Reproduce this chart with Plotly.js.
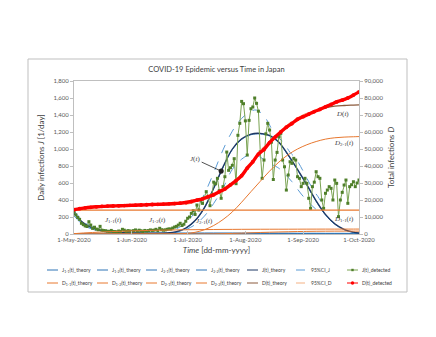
<!DOCTYPE html>
<html><head><meta charset="utf-8">
<script src="https://cdn.plot.ly/plotly-3.0.1.min.js"></script>
<style>html,body{margin:0;padding:0;background:#fff}#chart{width:436px;height:337px}</style>
</head><body><div id="chart"></div>
<script>
// ---------- DATA ----------
// Detected daily infections J(t), 1-May-2020 .. 1-Oct-2020
const jDetMay = [262,225,195,172,126,110,95,88,145,105,67,80,58,50,90,45,40,38,32,30,42,30,28,25,35,30,55,45,30,40,35];
const jDetJun = [32,40,48,35,45,38,30,42,35,40,48,42,45,55,40,67,50,45,48,55,60,58,70,82,90,105,126,100,115,150];
const jDetJul = [185,200,243,274,230,341,282,400,360,430,498,439,333,458,610,590,655,510,420,557,674,964,749,780,808,886,592,1161,1302,1560,1533];
const jDetAug = [1331,929,1337,1474,1494,1600,1537,1445,968,655,870,1178,1302,1223,1080,641,870,960,1144,1184,870,791,517,694,850,831,890,870,674,655,557];
const jDetSep = [596,655,596,420,302,557,610,733,674,655,400,302,479,517,557,537,400,635,596,204,400,490,576,635,361,557,580,615,557,600];
const jDetOct = [635];

// Theory sample dates (every 5 days)
const thDates = ['2020-05-01','2020-05-06','2020-05-11','2020-05-16','2020-05-21','2020-05-26','2020-05-31','2020-06-05','2020-06-10','2020-06-15','2020-06-20','2020-06-25','2020-06-30','2020-07-05','2020-07-10','2020-07-15','2020-07-20','2020-07-25','2020-07-30','2020-08-04','2020-08-09','2020-08-14','2020-08-19','2020-08-24','2020-08-29','2020-09-03','2020-09-08','2020-09-13','2020-09-18','2020-09-23','2020-09-28','2020-10-01'];
const j11 = [240,125,65,34,18,9,5,2,1,0,0,0,0,0,0,0,0,0,0,0,0,0,0,0,0,0,0,0,0,0,0,0];
const j12 = [5,6,7,8,8,9,9,10,10,11,11,12,12,12,12,12,12,12,11,11,11,10,10,10,9,9,9,8,8,8,7,7];
const j21 = [0,0,0,0,0,0,0,0,0,0,2,20,64,152,304,533,782,992,1112,1168,1177,1153,1073,923,753,573,383,223,114,50,17,7];
const j22 = [0,0,0,0,0,0,0,0,0,0,1,2,3,4,4,5,5,5,5,5,5,5,5,5,5,4,4,3,3,2,1,1];
const jTheory = [245,131,72,42,26,18,14,12,11,11,13,28,70,158,310,540,790,1000,1120,1175,1184,1160,1080,930,760,580,390,230,120,55,22,12];

// 95% CI of J(t)
const ciJEarlyDates = ['2020-05-01','2020-05-06','2020-05-11','2020-05-16','2020-05-21'];
const ciJEarlyUp = [275,150,85,50,32];
const ciJEarlyLo = [215,105,55,30,16];
const ciJUpDates = ['2020-06-25','2020-06-30','2020-07-05','2020-07-10','2020-07-15','2020-07-20','2020-07-25','2020-07-30','2020-08-04','2020-08-07','2020-08-11','2020-08-15','2020-08-17','2020-08-21','2020-08-25','2020-08-28','2020-09-01','2020-09-04','2020-09-07','2020-09-09','2020-09-12'];
const ciJUp = [60,130,260,470,720,990,1210,1360,1445,1458,1390,1240,1164,1090,960,890,740,615,500,439,330];
const ciJLoDates = ['2020-06-30','2020-07-05','2020-07-10','2020-07-15','2020-07-20','2020-07-25','2020-07-30','2020-08-03','2020-08-07','2020-08-10','2020-08-14','2020-08-19','2020-08-26','2020-08-31','2020-09-05','2020-09-09'];
const ciJLo = [50,110,210,360,540,760,880,930,925,890,830,773,615,470,350,270];

// Total infections D(t) theory components
const d11Dates = ['2020-05-01','2020-10-01'];
const d11 = [14100,14100];
const d12 = [200,600,900,1150,1400,1600,1800,1950,2100,2200,2300,2400,2500,2550,2600,2650,2700,2720,2750,2770,2800,2810,2820,2830,2850,2860,2870,2880,2885,2890,2895,2900];
const d21 = [0,0,0,0,0,0,0,0,0,0,0,80,300,1000,2500,5000,8500,13000,18700,24900,31000,37000,42300,46700,50000,52500,54400,55800,56600,57000,57200,57300];
const d22 = [0,0,0,0,0,0,0,0,0,0,0,0,0,0,50,100,200,330,500,700,900,1050,1200,1330,1450,1530,1600,1650,1680,1700,1700,1700];
const dTheory = [14300,15050,15550,15900,16150,16350,16550,16700,16850,17000,17200,17500,18200,19500,21000,23200,26000,29700,34300,41000,48300,53800,59000,63800,67500,70300,72500,74200,75200,75600,75850,76000];

// 95% CI of D(t)
const ciDDates = ['2020-06-30','2020-07-05','2020-07-10','2020-07-15','2020-07-20','2020-07-25','2020-07-30','2020-08-04','2020-08-09','2020-08-14','2020-08-19','2020-08-24','2020-08-29','2020-09-03','2020-09-08'];
const ciDUp = [19100,20400,21900,24100,26900,30600,35200,41900,49200,54700,59900,64700,68400,71200,73400];
const ciDLo = [17300,18600,20100,22300,25100,28800,33400,40100,47400,52900,58100,62900,66600,69400,71600];

// Detected cumulative D(t) (every 3 days)
const dDetDates = ['2020-05-01','2020-05-04','2020-05-07','2020-05-10','2020-05-13','2020-05-16','2020-05-19','2020-05-22','2020-05-25','2020-05-28','2020-05-31','2020-06-03','2020-06-06','2020-06-09','2020-06-12','2020-06-15','2020-06-18','2020-06-21','2020-06-24','2020-06-27','2020-06-30','2020-07-03','2020-07-06','2020-07-09','2020-07-12','2020-07-15','2020-07-18','2020-07-21','2020-07-24','2020-07-27','2020-07-30','2020-08-02','2020-08-05','2020-08-08','2020-08-11','2020-08-14','2020-08-17','2020-08-20','2020-08-23','2020-08-26','2020-08-29','2020-09-01','2020-09-04','2020-09-07','2020-09-10','2020-09-13','2020-09-16','2020-09-19','2020-09-22','2020-09-25','2020-09-28','2020-10-01'];
const dDet = [14300,14900,15350,15700,16000,16250,16400,16500,16600,16700,16850,16950,17100,17200,17350,17450,17600,17750,17900,18150,18500,19100,19900,20700,21900,23100,24900,26500,28900,31400,34300,38800,42500,47000,49700,53800,57000,60000,62800,65000,67500,69000,70500,72000,73300,74800,76200,77700,78700,80000,81700,83600];

const legendRow1 = ['J<sub>1-1</sub>(t)_theory','J<sub>1-2</sub>(t)_theory','J<sub>2-1</sub>(t)_theory','J<sub>2-2</sub>(t)_theory','J(t)_theory','95%CI_J','J(t)_detected'];
const legendRow2 = ['D<sub>1-1</sub>(t)_theory','D<sub>1-2</sub>(t)_theory','D<sub>2-1</sub>(t)_theory','D<sub>2-2</sub>(t)_theory','D(t)_theory','95%CI_D','D(t)_detected'];

// ---------- BUILD ----------
function monthDates(m, n){ const out=[]; for(let i=1;i<=n;i++){ out.push('2020-'+m+'-'+String(i).padStart(2,'0')); } return out; }
const jDetDates = [].concat(monthDates('05',jDetMay.length), monthDates('06',jDetJun.length), monthDates('07',jDetJul.length), monthDates('08',jDetAug.length), monthDates('09',jDetSep.length), monthDates('10',jDetOct.length));
const jDet = [].concat(jDetMay,jDetJun,jDetJul,jDetAug,jDetSep,jDetOct);

const C = {
  jComp:'#2E75B6', jTh:'#1F3864', ciJ:'#5B9BD5', jDetLine:'#7AA352', jDetMk:'#4F7F2A',
  dComp:'#E8782F', dTh:'#8B5A3C', ciD:'#F4B183', dDet:'#FF0000'
};
function sp(x,y,color,w,yaxis,extra){
  return Object.assign({type:'scatter',mode:'lines',x:x,y:y,yaxis:yaxis,hoverinfo:'skip',
    line:{color:color,width:w,shape:'spline',smoothing:1}}, extra||{});
}
const traces = [
  sp(thDates,j11,C.jComp,1,'y'),
  sp(thDates,j12,C.jComp,1,'y'),
  sp(thDates,j21,C.jComp,1,'y'),
  sp(thDates,j22,C.jComp,1,'y'),
  sp(thDates,jTheory,C.jTh,1.3,'y'),
  sp(ciJEarlyDates.concat([null],ciJUpDates), ciJEarlyUp.concat([null],ciJUp), C.ciJ,1,'y',{connectgaps:false}),
  sp(ciJEarlyDates.concat([null],ciJLoDates), ciJEarlyLo.concat([null],ciJLo), C.ciJ,1,'y',{connectgaps:false}),
  {type:'scatter',mode:'lines+markers',x:jDetDates,y:jDet,yaxis:'y',hoverinfo:'skip',
   line:{color:C.jDetLine,width:1},marker:{symbol:'square',size:3,color:C.jDetMk}},
  sp(d11Dates,d11,C.dComp,1.3,'y2'),
  sp(thDates,d12,C.dComp,1,'y2'),
  sp(thDates,d21,C.dComp,1,'y2'),
  sp(thDates,d22,C.dComp,1,'y2'),
  sp(thDates,dTheory,C.dTh,1.3,'y2'),
  sp(ciDDates,ciDUp,C.ciD,1,'y2'),
  sp(ciDDates,ciDLo,C.ciD,1,'y2'),
  {type:'scatter',mode:'lines+markers',x:dDetDates,y:dDet,yaxis:'y2',hoverinfo:'skip',
   line:{color:C.dDet,width:3.4,shape:'spline'},marker:{symbol:'circle',size:3.8,color:C.dDet}}
];
traces[5].line.dash='dash'; traces[6].line.dash='dash';
traces[13].line.dash='dash'; traces[14].line.dash='dash';

// pixel helpers for paper coordinates
const L=74, R=77, T=81, B=103, W=436-L-R, H=337-T-B;
const px = v => (v-L)/W;
const py = v => (337-B-v)/H;

const shapes = [
  {type:'rect',xref:'paper',yref:'paper',x0:px(28),x1:px(407),y0:py(292),y1:py(59),line:{color:'#BFBFBF',width:1}}
];
const annotations = [];
const legX = [47,97,146,196,247,296,347];
const row1Style = [
  {c:C.jComp},{c:C.jComp},{c:C.jComp},{c:C.jComp},{c:C.jTh},{c:C.ciJ,dash:'dash'},{c:C.jDetLine,mk:'sq',mc:C.jDetMk}
];
const row2Style = [
  {c:C.dComp},{c:C.dComp},{c:C.dComp},{c:C.dComp},{c:C.dTh},{c:C.ciD,dash:'dash'},{c:C.dDet,mk:'ci',mc:C.dDet}
];
function addLegendRow(labels, styles, yPix){
  labels.forEach((lab,i)=>{
    const s = styles[i], x0 = legX[i];
    shapes.push({type:'line',xref:'paper',yref:'paper',x0:px(x0),x1:px(x0+11),y0:py(yPix),y1:py(yPix),
      line:{color:s.c,width:1,dash:s.dash||'solid'}});
    if(s.mk==='sq'){
      shapes.push({type:'rect',xref:'paper',yref:'paper',x0:px(x0+4.3),x1:px(x0+6.7),y0:py(yPix+1.2),y1:py(yPix-1.2),
        line:{width:0},fillcolor:s.mc});
    } else if(s.mk==='ci'){
      shapes.push({type:'circle',xref:'paper',yref:'paper',x0:px(x0+3.8),x1:px(x0+7.2),y0:py(yPix+1.7),y1:py(yPix-1.7),
        line:{width:0},fillcolor:s.mc});
    }
    annotations.push({xref:'paper',yref:'paper',x:px(x0+13),y:py(yPix),xanchor:'left',yanchor:'middle',
      text:lab,showarrow:false,font:{size:5,color:'#404040',family:'Lato, sans-serif'}});
  });
}
addLegendRow(legendRow1,row1Style,270);
addLegendRow(legendRow2,row2Style,283);

const lblFont = {family:'Liberation Serif, serif',size:7,color:'#404040'};
annotations.push(
  {x:'2020-07-19',y:740,xref:'x',yref:'y',text:'<i>J</i>(<i>t</i>)',showarrow:true,ax:-26,ay:-12,
   arrowhead:6,arrowsize:1.6,arrowwidth:0.8,arrowcolor:'#222222',font:lblFont,standoff:0},
  {x:'2020-05-22',y:170,xref:'x',yref:'y',text:'<i>J</i><sub>1-1</sub>(<i>t</i>)',showarrow:false,font:lblFont},
  {x:'2020-06-15',y:165,xref:'x',yref:'y',text:'<i>J</i><sub>1-2</sub>(<i>t</i>)',showarrow:false,font:lblFont},
  {x:'2020-07-10',y:153,xref:'x',yref:'y',text:'<i>J</i><sub>2-1</sub>(<i>t</i>)',showarrow:false,font:lblFont},
  {x:'2020-09-22',y:70600,xref:'x',yref:'y2',text:'<i>D</i>(<i>t</i>)',showarrow:false,font:lblFont},
  {x:'2020-09-23',y:53500,xref:'x',yref:'y2',text:'<i>D</i><sub>2-1</sub>(<i>t</i>)',showarrow:false,font:lblFont},
  {x:'2020-09-23',y:8800,xref:'x',yref:'y2',text:'<i>D</i><sub>1-1</sub>(<i>t</i>)',showarrow:false,font:lblFont}
);

const axLine = '#BFBFBF', tickCol = '#595959';
const tf = {size:6,color:tickCol,family:'Lato, sans-serif'};
const layout = {
  width:436, height:337,
  margin:{l:L,r:R,t:T,b:B,pad:0},
  paper_bgcolor:'#ffffff', plot_bgcolor:'#ffffff',
  font:{family:'Lato, sans-serif',size:6,color:tickCol},
  showlegend:false,
  title:{text:'COVID-19 Epidemic versus Time in Japan',font:{size:7.5,color:'#404040',family:'Lato, sans-serif'},
    x:0.5,xref:'paper',xanchor:'center',y:1-69/337,yref:'container',yanchor:'middle'},
  xaxis:{type:'date',range:['2020-05-01','2020-10-01'],tick0:'2020-05-01',dtick:'M1',tickformat:'%-d-%b-%Y',
    showline:true,linecolor:axLine,linewidth:1,mirror:true,ticks:'inside',ticklen:3,tickcolor:axLine,
    showgrid:false,zeroline:false,tickfont:tf,
    title:{text:'<i>Time</i> [dd-mm-yyyy]',font:{size:8,color:'#404040'},standoff:5}},
  yaxis:{range:[0,1800],dtick:200,tickformat:',d',showline:true,linecolor:axLine,linewidth:1,
    ticks:'outside',ticklen:3,tickcolor:axLine,showgrid:false,zeroline:false,tickfont:tf,
    title:{text:'Daily infections <i>J</i> [1/day]',font:{size:8,color:'#404040'},standoff:7}},
  yaxis2:{overlaying:'y',side:'right',range:[0,90000],dtick:10000,tickformat:',d',showline:true,linecolor:axLine,linewidth:1,
    ticks:'outside',ticklen:3,tickcolor:axLine,showgrid:false,zeroline:false,tickfont:tf,
    title:{text:'Total infections <i>D</i>',font:{size:8,color:'#404040'},standoff:5}},
  shapes:shapes, annotations:annotations
};
Plotly.newPlot('chart',traces,layout,{staticPlot:true,displayModeBar:false});
</script></body></html>
